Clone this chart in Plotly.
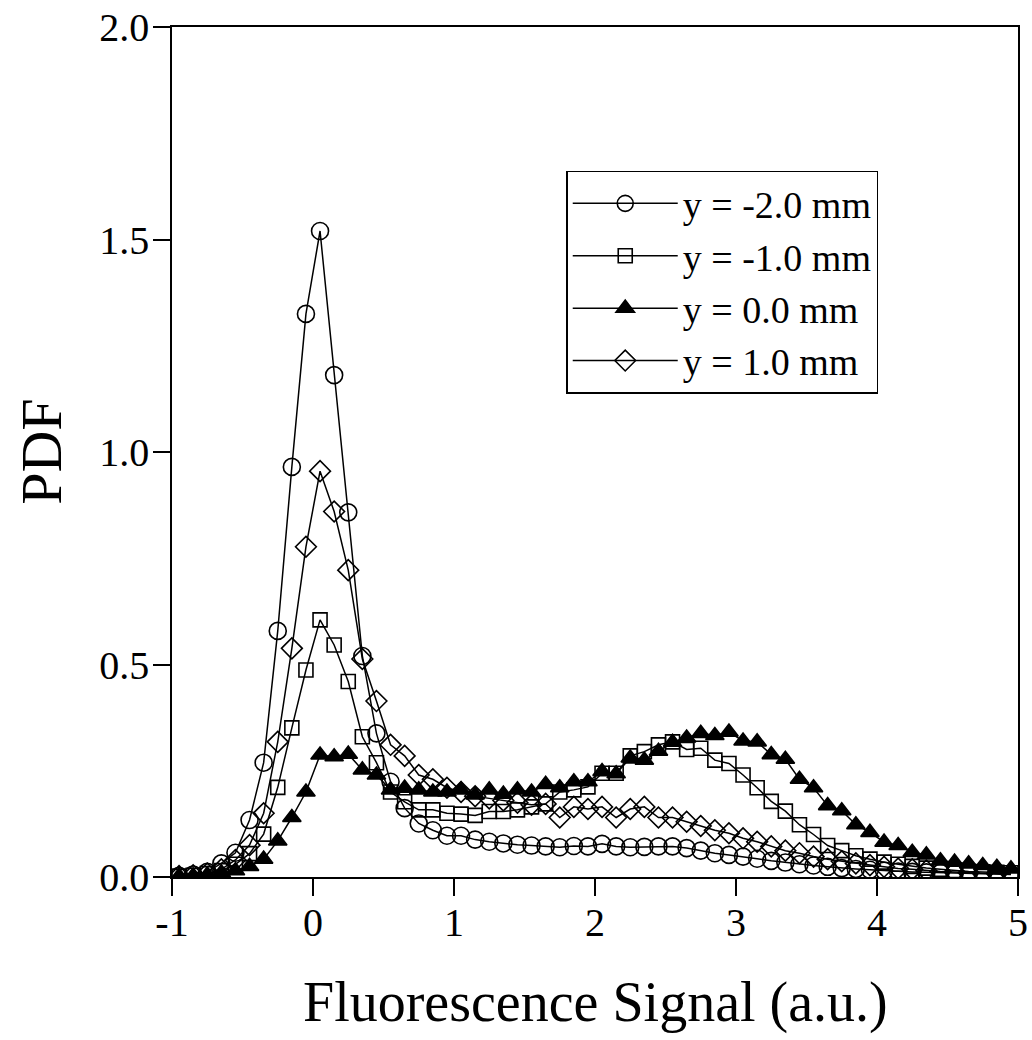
import plotly.graph_objects as go

# Bin centres of the fluorescence signal (a.u.)
signal = [-0.95, -0.85, -0.75, -0.65, -0.55, -0.45, -0.35, -0.25, -0.15, -0.05,
          0.05, 0.15, 0.25, 0.35, 0.45, 0.55, 0.65, 0.75, 0.85, 0.95,
          1.05, 1.15, 1.25, 1.35, 1.45, 1.55, 1.65, 1.75, 1.85, 1.95,
          2.05, 2.15, 2.25, 2.35, 2.45, 2.55, 2.65, 2.75, 2.85, 2.95,
          3.05, 3.15, 3.25, 3.35, 3.45, 3.55, 3.65, 3.75, 3.85, 3.95,
          4.05, 4.15, 4.25, 4.35, 4.45, 4.55, 4.65, 4.75, 4.85, 4.95]

pdf_m20 = [0.003, 0.006, 0.012, 0.032, 0.057, 0.134, 0.269, 0.579, 0.965, 1.325,
           1.52, 1.181, 0.858, 0.52, 0.338, 0.224, 0.162, 0.126, 0.11, 0.097,
           0.097, 0.088, 0.083, 0.079, 0.076, 0.074, 0.072, 0.07, 0.073, 0.072,
           0.078, 0.072, 0.07, 0.071, 0.072, 0.072, 0.068, 0.062, 0.056, 0.052,
           0.048, 0.043, 0.038, 0.034, 0.03, 0.027, 0.024, 0.021, 0.019, 0.017,
           0.015, 0.013, 0.012, 0.011, 0.01, 0.009, 0.008, 0.007, 0.007, 0.006]

pdf_m10 = [0.002, 0.004, 0.008, 0.015, 0.03, 0.055, 0.101, 0.211, 0.351, 0.487,
           0.605, 0.546, 0.46, 0.33, 0.269, 0.2, 0.177, 0.158, 0.158, 0.15,
           0.148, 0.145, 0.154, 0.154, 0.158, 0.165, 0.172, 0.2, 0.205, 0.212,
           0.244, 0.244, 0.285, 0.295, 0.311, 0.318, 0.3, 0.303, 0.275, 0.267,
           0.24, 0.21, 0.178, 0.155, 0.123, 0.1, 0.074, 0.062, 0.05, 0.042,
           0.035, 0.03, 0.025, 0.021, 0.018, 0.015, 0.013, 0.012, 0.011, 0.01]

pdf_00 = [0.002, 0.003, 0.005, 0.01, 0.015, 0.025, 0.042, 0.085, 0.14, 0.2,
          0.287, 0.283, 0.289, 0.252, 0.24, 0.205, 0.209, 0.205, 0.2, 0.2,
          0.205, 0.193, 0.205, 0.195, 0.205, 0.2, 0.218, 0.21, 0.224, 0.224,
          0.248, 0.243, 0.28, 0.275, 0.296, 0.317, 0.327, 0.338, 0.333, 0.341,
          0.32, 0.318, 0.288, 0.277, 0.23, 0.21, 0.168, 0.156, 0.123, 0.105,
          0.082, 0.074, 0.058, 0.052, 0.038, 0.035, 0.031, 0.027, 0.023, 0.019]

pdf_p10 = [0.002, 0.004, 0.008, 0.018, 0.04, 0.075, 0.15, 0.318, 0.538, 0.777,
           0.955, 0.86, 0.722, 0.513, 0.414, 0.311, 0.285, 0.24, 0.23, 0.21,
           0.2, 0.19, 0.185, 0.18, 0.175, 0.17, 0.172, 0.14, 0.165, 0.16,
           0.165, 0.14, 0.16, 0.165, 0.14, 0.14, 0.13, 0.12, 0.11, 0.103,
           0.091, 0.083, 0.072, 0.062, 0.056, 0.048, 0.042, 0.037, 0.032, 0.028,
           0.024, 0.02, 0.018, 0.015, 0.013, 0.012, 0.01, 0.009, 0.008, 0.007]

series_names = ["y = -2.0 mm", "y = -1.0 mm", "y = 0.0 mm", "y = 1.0 mm"]
x_ticks = [-1, 0, 1, 2, 3, 4, 5]
y_ticks = [0.0, 0.5, 1.0, 1.5, 2.0]

FONT = "Liberation Serif, Times New Roman, serif"

fig = go.Figure()
styles = [
    dict(symbol="circle-open", size=17),
    dict(symbol="square-open", size=14),
    dict(symbol="triangle-up", size=16),
    dict(symbol="diamond-open", size=16),
]
for name, vals, st in zip(series_names, [pdf_m20, pdf_m10, pdf_00, pdf_p10], styles):
    fig.add_trace(go.Scatter(
        x=signal, y=vals, name=name, mode="lines+markers",
        line=dict(color="black", width=1.5),
        marker=dict(symbol=st["symbol"], size=st["size"], color="black",
                    line=dict(color="black", width=1.6)),
    ))

axis_common = dict(
    showline=True, linecolor="black", linewidth=1.5, mirror=True,
    ticks="outside", ticklen=17, tickwidth=1.5, tickcolor="black",
    showgrid=False, zeroline=False, automargin=False,
    tickfont=dict(family=FONT, size=40, color="black"),
)
fig.update_xaxes(range=[-1, 5], tickvals=x_ticks, ticktext=[str(v) for v in x_ticks],
                 ticklabelstandoff=-8, **axis_common)
fig.update_yaxes(range=[0, 2], tickvals=y_ticks, ticktext=[f"{v:.1f}" for v in y_ticks],
                 ticklabelstandoff=-4, **axis_common)

fig.update_layout(
    width=1032, height=1040,
    margin=dict(l=172, r=14, t=27, b=163),
    paper_bgcolor="white", plot_bgcolor="white",
    showlegend=True,
    legend=dict(
        x=0.466, y=0.831, xanchor="left", yanchor="top",
        bgcolor="white", bordercolor="black", borderwidth=1.5,
        font=dict(family=FONT, size=38, color="black"),
        itemwidth=105, tracegroupgap=0,
    ),
    annotations=[
        dict(text="Fluorescence Signal (a.u.)", xref="paper", yref="paper",
             x=0.5, y=-0.148, xanchor="center", yanchor="middle", showarrow=False,
             font=dict(family=FONT, size=56, color="black")),
        dict(text="PDF", xref="paper", yref="paper",
             x=-0.155, y=0.5, xanchor="center", yanchor="middle", showarrow=False,
             textangle=-90, font=dict(family=FONT, size=58, color="black")),
    ],
)

fig.write_html("out.html")
